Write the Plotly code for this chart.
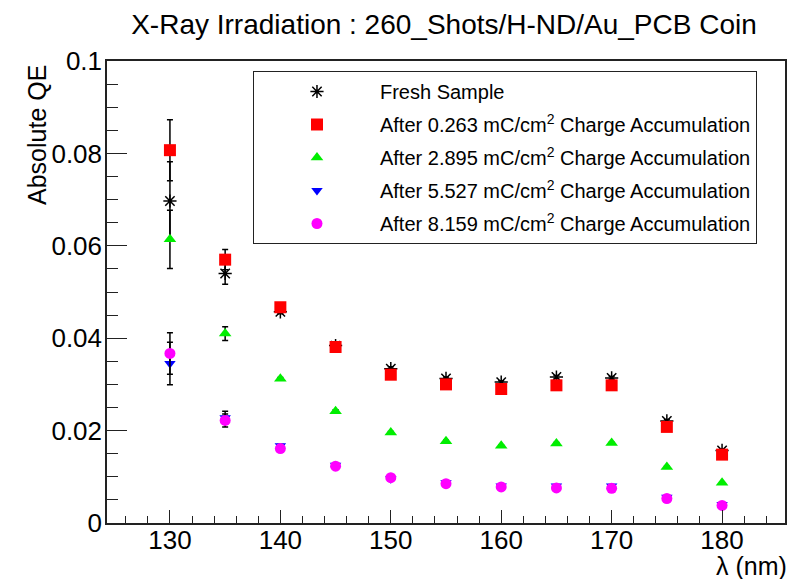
import plotly.graph_objects as go

wavelength = [130, 135, 140, 145, 150, 155, 160, 165, 170, 175, 180]

fresh = [0.0697, 0.0540, 0.0457, 0.0384, 0.0334, 0.0313, 0.0305, 0.0316, 0.0314, 0.0221, 0.0157]
fresh_err = [0.0085, 0.0023, 0.0004, 0.0004, 0.0004, 0.0003, 0.0003, 0.0003, 0.0003, 0.0003, 0.0003]

q0263 = [0.0807, 0.0570, 0.0467, 0.0381, 0.0321, 0.0300, 0.0290, 0.0298, 0.0298, 0.0208, 0.0148]
q0263_err = [0.0066, 0.0022, 0.0004, 0.0004, 0.0003, 0.0003, 0.0003, 0.0003, 0.0003, 0.0003, 0.0003]

q2895 = [0.0614, 0.0410, 0.0312, 0.0242, 0.0196, 0.0177, 0.0167, 0.0172, 0.0173, 0.0121, 0.0087]
q2895_err = [0.0063, 0.0015, 0.0003, 0.0003, 0.0002, 0.0002, 0.0002, 0.0002, 0.0002, 0.0002, 0.0002]

q5527 = [0.0345, 0.0228, 0.0167, 0.0125, 0.0096, 0.0087, 0.0080, 0.0080, 0.0080, 0.0056, 0.0040]
q5527_err = [0.0046, 0.0014, 0.0003, 0.0002, 0.0002, 0.0002, 0.0002, 0.0002, 0.0002, 0.0002, 0.0002]

q8159 = [0.0367, 0.0222, 0.0161, 0.0123, 0.0098, 0.0085, 0.0078, 0.0076, 0.0075, 0.0053, 0.0038]
q8159_err = [0.0045, 0.0014, 0.0003, 0.0002, 0.0002, 0.0002, 0.0002, 0.0002, 0.0002, 0.0002, 0.0002]

series_names = [
    "Fresh Sample",
    "After 0.263 mC/cm<sup>2</sup> Charge Accumulation",
    "After 2.895 mC/cm<sup>2</sup> Charge Accumulation",
    "After 5.527 mC/cm<sup>2</sup> Charge Accumulation",
    "After 8.159 mC/cm<sup>2</sup> Charge Accumulation",
]

FONT = "Liberation Sans, Arial, sans-serif"
AXC = "#222222"

series = [
    (fresh, fresh_err, "asterisk-open", "black", 11),
    (q0263, q0263_err, "square", "#ff0000", 12),
    (q2895, q2895_err, "triangle-up", "#00ee00", 11),
    (q5527, q5527_err, "triangle-down", "#0000ff", 10),
    (q8159, q8159_err, "circle", "#ff00ff", 11),
]

fig = go.Figure()
for i, (name, (vals, errs, sym, col, sz)) in enumerate(zip(series_names, series)):
    fig.add_trace(go.Scatter(
        x=wavelength, y=vals, mode="markers", name=name, legendgroup=f"g{i}",
        marker=dict(symbol=sym, color=col, size=sz,
                    line=dict(color=col, width=1.5) if sym == "asterisk-open" else dict(width=0)),
        error_y=dict(type="data", array=errs, visible=True, color="black",
                     thickness=1.5, width=3),
    ))

fig.update_layout(
    width=790, height=579,
    paper_bgcolor="white", plot_bgcolor="white",
    margin=dict(l=107, r=5, t=61, b=56, autoexpand=False),
    font=dict(family=FONT, color="black", size=26),
    title=dict(text="X-Ray Irradiation : 260_Shots/H-ND/Au_PCB Coin",
               x=444 / 790, xref="container", xanchor="center",
               y=1 - 24 / 579, yref="container", yanchor="middle",
               font=dict(size=28, family=FONT, color="black")),
    showlegend=True,
    legend=dict(x=0.2153, y=(462 - 10) / 462, xanchor="left", yanchor="top",
                bordercolor=AXC, borderwidth=1, bgcolor="white",
                font=dict(size=20, family=FONT, color="black"),
                itemwidth=116, tracegroupgap=4),
    xaxis=dict(range=[124.3, 185.7], dtick=10, tick0=130,
               ticks="inside", ticklen=13, tickwidth=1.2, tickcolor=AXC,
               ticklabelstandoff=-7,
               showline=True, linecolor=AXC, linewidth=1.5, mirror=True,
               showgrid=False, zeroline=False,
               tickfont=dict(size=26, family=FONT),
               minor=dict(dtick=2, ticks="inside", ticklen=7, tickcolor=AXC, tickwidth=1.2, showgrid=False)),
    yaxis=dict(range=[0, 0.1], dtick=0.02, tick0=0,
               ticks="inside", ticklen=20, tickwidth=1.2, tickcolor=AXC,
               ticklabelstandoff=-2,
               showline=True, linecolor=AXC, linewidth=1.5, mirror=True,
               showgrid=False, zeroline=False,
               tickfont=dict(size=26, family=FONT),
               minor=dict(dtick=0.005, ticks="inside", ticklen=11, tickcolor=AXC, tickwidth=1.2, showgrid=False)),
    annotations=[
        dict(text="Absolute QE", xref="paper", yref="paper",
             x=(37 - 107) / 678, y=(523 - 135) / 462, textangle=-90,
             xanchor="center", yanchor="middle", showarrow=False,
             font=dict(size=25, family=FONT)),
        dict(text="λ (nm)", xref="paper", yref="paper",
             x=1, y=(523 - 566) / 462, xanchor="right", yanchor="middle",
             xshift=4, showarrow=False, font=dict(size=25, family=FONT)),
    ],
)

fig.write_html("out.html", config={"displayModeBar": False},
               post_script="document.body.style.margin='0';document.body.style.overflow='hidden';")
